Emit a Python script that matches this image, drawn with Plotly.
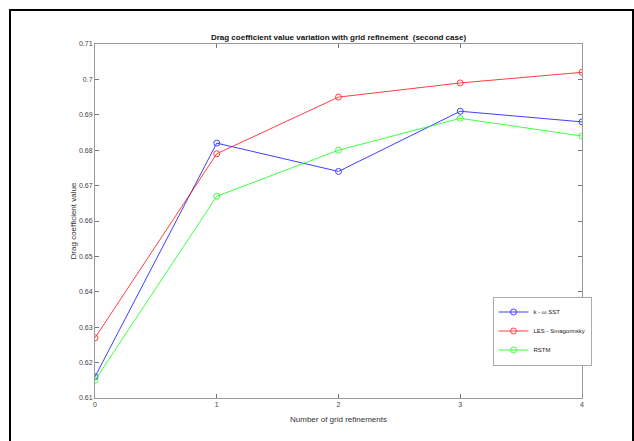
import plotly.graph_objects as go

refinements = [0, 1, 2, 3, 4]
k_omega_sst = [0.616, 0.682, 0.674, 0.691, 0.688]
les_smagorinsky = [0.627, 0.679, 0.695, 0.699, 0.702]
rstm = [0.615, 0.667, 0.680, 0.689, 0.684]

y_ticks = [0.61, 0.62, 0.63, 0.64, 0.65, 0.66, 0.67, 0.68, 0.69, 0.70, 0.71]
y_tick_labels = ["0.61", "0.62", "0.63", "0.64", "0.65", "0.66", "0.67", "0.68", "0.69", "0.7", "0.71"]
x_ticks = [0, 1, 2, 3, 4]

FONT = "Liberation Sans Narrow, Arial Narrow, Liberation Sans, sans-serif"

fig = go.Figure()
series = [
    ("k - \u03c9 SST", k_omega_sst, "#0000ff"),
    ("LES - Smagorinsky", les_smagorinsky, "#ff0000"),
    ("RSTM", rstm, "#00ff00"),
]
for name, vals, color in series:
    fig.add_trace(go.Scatter(
        x=refinements, y=vals, name=name, mode="lines+markers",
        line=dict(color=color, width=1),
        marker=dict(symbol="circle-open", size=6, color=color, line=dict(width=1, color=color)),
        opacity=0.75,
    ))

L, R, T, B = 95, 52, 44, 43
W, H = 634, 441
pw, ph = W - L - R, H - T - B

fig.update_layout(
    width=W, height=H,
    margin=dict(l=L, r=R, t=T, b=B),
    paper_bgcolor="white", plot_bgcolor="white",
    font=dict(family=FONT, size=7, color="#333333"),
    title=dict(text="Drag coefficient value variation with grid refinement  (second case)",
               x=(L + pw / 2) / W, xanchor="center", y=1 - 37 / H, yanchor="middle",
               font=dict(family=FONT, size=8, color="#111111", weight="bold")),
    showlegend=True,
    legend=dict(x=(542 - L) / pw, y=(H - B - 331) / ph, xanchor="center", yanchor="middle",
                bgcolor="white", bordercolor="#aaaaaa", borderwidth=1,
                font=dict(family=FONT, size=6, color="#222222"),
                itemwidth=30, tracegroupgap=0),
    xaxis=dict(range=[0, 4], tickvals=x_ticks, ticktext=[str(v) for v in x_ticks],
               showgrid=False, zeroline=False, showline=True, linecolor="#999999", linewidth=1,
               mirror="ticks", ticks="inside", ticklen=4, tickcolor="#777777",
               tickfont=dict(size=7, color="#444444"),
               title=dict(text="Number of grid refinements", standoff=8,
                          font=dict(size=8, color="#333333"))),
    yaxis=dict(range=[0.61, 0.71], tickvals=y_ticks, ticktext=y_tick_labels,
               showgrid=False, zeroline=False, showline=True, linecolor="#999999", linewidth=1,
               mirror="ticks", ticks="inside", ticklen=4, tickcolor="#777777",
               tickfont=dict(size=7, color="#444444"),
               title=dict(text="Drag coefficient value", standoff=1,
                          font=dict(size=8, color="#333333"))),
)

# outer black frame
fig.add_shape(type="rect", xref="paper", yref="paper",
              x0=(10 - L) / pw, x1=(633 - L) / pw,
              y0=-(450 - (H - B)) / ph, y1=1 + (T - 10) / ph,
              line=dict(color="black", width=2), layer="above")

fig.write_html("out.html", config={"displayModeBar": False},
               post_script="document.body.style.margin='0';document.body.style.overflow='hidden';")
